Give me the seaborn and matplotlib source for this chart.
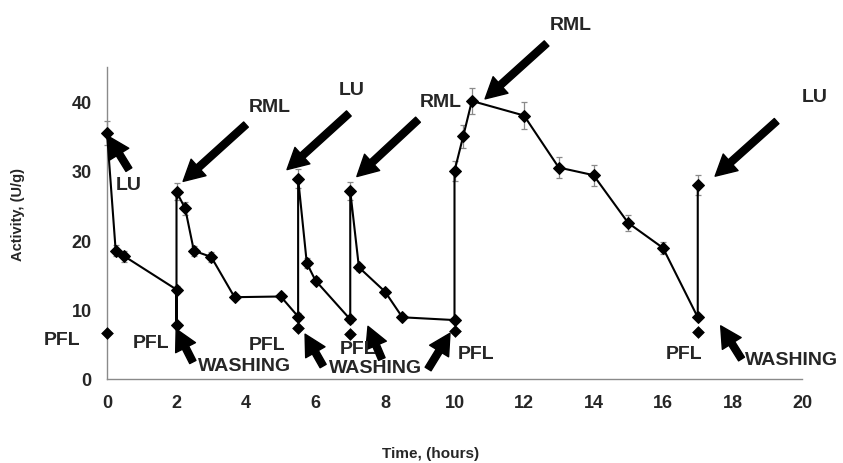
import matplotlib
matplotlib.use("Agg")
import matplotlib.pyplot as plt
import seaborn as sns
import pandas as pd

# Activity profile through repeated washing / enzyme loading cycles
time_h = [0, 0.25, 0.5, 2, 2, 2, 2.25, 2.5, 3, 3.67, 5, 5.5, 5.5, 5.75, 6,
          7, 7, 7.25, 8, 8.5, 10, 10, 10.25, 10.5, 12, 13, 14, 15, 16, 17, 17]
activity = [35.5, 18.5, 17.7, 12.9, 7.8, 27.0, 24.6, 18.5, 17.6, 11.8, 11.9,
            9.0, 28.9, 16.7, 14.2, 8.6, 27.1, 16.1, 12.6, 8.9, 8.5, 30.0,
            35.0, 40.1, 38.0, 30.5, 29.4, 22.5, 18.9, 8.9, 28.0]
activity_err = [1.7, 0.8, 0.8, 0.5, 0.3, 1.2, 1.0, 0.7, 0.7, 0.3, 0.4,
                0.5, 1.4, 0.7, 0.5, 0.5, 1.3, 0.5, 0.3, 0.2, 0.2, 1.5,
                1.7, 1.9, 1.9, 1.5, 1.5, 1.1, 0.9, 0.3, 1.45]

# Activity left after washing (PFL), not joined to the main trace
pfl_time = [0, 5.5, 7, 10, 17]
pfl_activity = [6.7, 7.4, 6.5, 6.9, 6.8]

x_ticks = list(range(0, 21, 2))
y_ticks = [0, 10, 20, 30, 40]

# label text, label position, list of (arrow tail, arrow tip)
annotations = [
    ("LU", (0.63, 28.1), [((0.63, 30.2), (0.04, 35.0))]),
    ("RML", (4.69, 39.3), [((4.0, 36.7), (2.19, 28.5))]),
    ("LU", (7.05, 41.7), [((6.96, 38.3), (5.18, 30.2))]),
    ("RML", (9.61, 40.0), [((8.95, 37.4), (7.19, 29.2))]),
    ("RML", (13.35, 51.1), [((12.65, 48.4), (10.88, 40.4))]),
    ("LU", (20.37, 40.7), [((19.27, 37.2), (17.5, 29.25))]),
    ("WASHING", (3.97, 2.0), [((2.47, 2.45), (1.99, 7.2))]),
    ("WASHING", (7.74, 1.73), [((6.22, 1.87), (5.70, 6.47)),
                               ((7.91, 2.88), (7.51, 7.6)),
                               ((9.24, 1.44), (9.87, 6.6))]),
    ("WASHING", (19.71, 2.88), [((18.26, 2.88), (17.66, 7.67))]),
    ("PFL", (-1.29, 5.76), []),
    ("PFL", (1.27, 5.3), []),
    ("PFL", (4.6, 5.0), []),
    ("PFL", (7.22, 4.46), []),
    ("PFL", (10.62, 3.74), []),
    ("PFL", (16.6, 3.74), []),
]

sns.set_style("white")
plt.rcParams["font.family"] = ["Liberation Sans", "DejaVu Sans"]
plt.rcParams["font.weight"] = "bold"

df = pd.DataFrame({"time": time_h, "activity": activity, "err": activity_err})
pfl = pd.DataFrame({"time": pfl_time, "activity": pfl_activity})

fig = plt.figure(figsize=(8.43, 4.64), dpi=100)
ax = fig.add_axes([107 / 843, 84 / 464, 695 / 843, 312 / 464])

ax.errorbar(df["time"], df["activity"], yerr=df["err"], fmt="none",
            ecolor="#8a8a8a", elinewidth=0.9, capsize=2.5, capthick=0.9,
            zorder=2, clip_on=False)
sns.lineplot(data=df, x="time", y="activity", sort=False, estimator=None,
             color="black", linewidth=1.5, marker="D", markersize=6,
             markeredgecolor="black", ax=ax, zorder=3, clip_on=False)
sns.scatterplot(data=pfl, x="time", y="activity", marker="D", s=36,
                color="black", edgecolor="black", ax=ax, zorder=3,
                clip_on=False)

ax.set_xlim(0, 20)
ax.set_ylim(0, 45)
ax.set_xticks(x_ticks)
ax.set_yticks(y_ticks)
ax.tick_params(axis="both", direction="out", length=5, width=1,
               color="#8a8a8a", labelsize=13, pad=6)
for lab in ax.get_xticklabels() + ax.get_yticklabels():
    lab.set_fontweight("bold")
sns.despine(ax=ax)
for side in ("left", "bottom"):
    ax.spines[side].set_color("#8a8a8a")
    ax.spines[side].set_linewidth(1)

ax.set_xlabel("Time, (hours)", fontsize=11, fontweight="bold")
ax.set_ylabel("Activity, (U/g)", fontsize=10.5, fontweight="bold")
ax.xaxis.set_label_coords(0.465, -0.215)
ax.yaxis.set_label_coords(-0.118, 0.53)

for text, pos, arrows in annotations:
    ax.text(pos[0], pos[1], text, fontsize=14, fontweight="bold",
            ha="center", va="center", clip_on=False, zorder=4)
    for tail, tip in arrows:
        ax.annotate("", xy=tip, xytext=tail, annotation_clip=False,
                    arrowprops=dict(facecolor="black", edgecolor="black",
                                    width=5, headwidth=16, headlength=15,
                                    shrink=0), zorder=4)

fig.savefig("out.png", dpi=100)
